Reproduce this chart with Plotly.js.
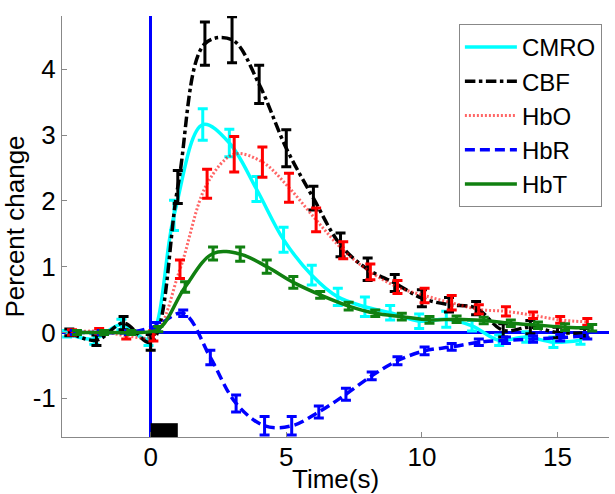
<!DOCTYPE html>
<html>
<head>
<meta charset="utf-8">
<script src="https://cdn.plot.ly/plotly-3.0.1.min.js"></script>
<style>html,body{margin:0;padding:0;background:#fff}#chart{width:615px;height:494px}</style>
</head>
<body>
<div id="chart"></div>
<script>
// ---- data ----
var tCBF = [-3,-2,-1,0,1,2,3,4,5,6,7,8,9,10,11,12,13,14,15,16];
var cbf = [0.0,-0.12,0.14,-0.15,2.21,4.39,4.45,3.77,2.8,2.04,1.33,0.96,0.75,0.52,0.42,0.37,0.03,0.08,0.0,-0.01];
var cbfErr = [0.05,0.08,0.1,0.12,0.25,0.33,0.35,0.29,0.28,0.18,0.18,0.17,0.13,0.13,0.11,0.1,0.1,0.1,0.08,0.07];

var tCMRO = [-3.08,-2.08,-1.08,-0.08,0.86,1.92,2.9,3.9,4.9,5.94,6.9,7.9,8.83,9.9,10.9,11.85,12.85,13.85,14.85,15.85];
var cmro = [-0.02,-0.1,0.12,-0.1,1.78,3.16,2.88,2.18,1.41,0.87,0.54,0.39,0.30,0.17,0.20,0.10,-0.12,-0.07,-0.15,-0.12];
var cmroErr = [0.05,0.08,0.08,0.1,0.23,0.24,0.21,0.19,0.19,0.15,0.13,0.15,0.11,0.11,0.12,0.08,0.08,0.08,0.08,0.06];

var tHbO = [-2.9,-1.9,-0.9,0.1,1.08,2.08,3.08,4.12,5.1,6.1,7.1,8.1,9.1,10.1,11.1,12.1,13.1,14.1,15.1,16.1];
var hbo = [0.0,0.02,-0.05,-0.05,0.96,2.26,2.71,2.59,2.2,1.71,1.25,0.92,0.69,0.56,0.45,0.35,0.32,0.26,0.19,0.16];
var hboErr = [0.04,0.04,0.05,0.08,0.14,0.22,0.27,0.23,0.22,0.18,0.13,0.12,0.1,0.11,0.11,0.07,0.07,0.05,0.05,0.05];

var tHbR = [-2.8,-1.8,-0.8,0.2,1.2,2.2,3.15,4.2,5.2,6.2,7.2,8.15,9.1,10.1,11.1,12.1,13.1,14.1,15.1,16.1];
var hbr = [0.0,0.0,0.0,0.1,0.29,-0.38,-1.08,-1.42,-1.42,-1.21,-0.94,-0.66,-0.43,-0.28,-0.22,-0.15,-0.12,-0.1,-0.08,-0.05];
var hbrErr = [0.03,0.03,0.03,0.05,0.05,0.11,0.13,0.14,0.14,0.09,0.09,0.06,0.06,0.06,0.05,0.05,0.05,0.05,0.05,0.05];

var tHbT = [-2.72,-1.72,-0.72,0.28,1.27,2.3,3.3,4.28,5.26,6.25,7.3,8.28,9.26,10.28,11.28,12.28,13.28,14.28,15.28,16.28];
var hbt = [0.0,0.0,0.0,0.05,0.69,1.2,1.19,1.0,0.76,0.57,0.4,0.29,0.24,0.19,0.2,0.18,0.14,0.11,0.08,0.07];
var hbtErr = [0.03,0.03,0.03,0.04,0.08,0.1,0.11,0.1,0.09,0.05,0.06,0.05,0.05,0.05,0.05,0.05,0.05,0.05,0.05,0.05];

var seriesNames = ['CMRO','CBF','HbO','HbR','HbT'];
var stim = [0, 1];
var stimTop = -1.38;
var xTicks = [0, 5, 10, 15];
var yTicks = [-1, 0, 1, 2, 3, 4];
var xRange = [-3.27, 16.9];
var yRange = [-1.59, 4.81];
var xTitle = 'Time(s)';
var yTitle = 'Percent change';

// ---- build traces ----
function tr(name, x, y, err, color, errColor, dash, width) {
  return {
    type: 'scatter', mode: 'lines', name: name, x: x, y: y,
    line: {color: color, width: width, dash: dash, shape: 'spline', smoothing: 1},
    error_y: {type: 'data', array: err, visible: true, color: errColor, thickness: 3, width: 5},
    hoverinfo: 'x+y'
  };
}
var data = [
  tr(seriesNames[0], tCMRO, cmro, cmroErr, 'rgb(0,255,255)', 'rgb(0,255,255)', 'solid', 3.5),
  tr(seriesNames[1], tCBF, cbf, cbfErr, 'rgb(0,0,0)', 'rgb(0,0,0)', 'dashdot', 3.5),
  tr(seriesNames[2], tHbO, hbo, hboErr, 'rgba(255,0,0,0.6)', 'rgb(255,0,0)', '2px,2px', 3),
  tr(seriesNames[3], tHbR, hbr, hbrErr, 'rgb(0,0,255)', 'rgb(0,0,255)', '10px,5px', 3.5),
  tr(seriesNames[4], tHbT, hbt, hbtErr, 'rgb(16,128,16)', 'rgb(16,128,16)', 'solid', 3.5)
];

var fam = '"Liberation Sans", Arial, Helvetica, sans-serif';
var font = {family: fam, size: 26, color: '#000'};
var layout = {
  width: 615, height: 494,
  margin: {l: 62, r: 6, t: 16, b: 57},
  paper_bgcolor: '#fff', plot_bgcolor: '#fff',
  font: font,
  showlegend: true,
  legend: {
    x: 0.987, y: 0.981, xanchor: 'right', yanchor: 'top',
    bgcolor: '#fff', bordercolor: '#888', borderwidth: 1,
    font: {family: fam, size: 24, color: '#000'},
    itemwidth: 52, tracegroupgap: 0
  },
  xaxis: {
    range: xRange, tickvals: xTicks, ticktext: xTicks.map(String),
    ticks: 'inside', ticklen: 5, tickcolor: '#888', showline: true, linecolor: '#888', linewidth: 1,
    showgrid: false, zeroline: true, zerolinecolor: '#0000ff', zerolinewidth: 3,
    ticklabelstandoff: -3, tickfont: font
  },
  yaxis: {
    range: yRange, tickvals: yTicks, ticktext: yTicks.map(String),
    ticks: 'inside', ticklen: 5, tickcolor: '#888', showline: true, linecolor: '#888', linewidth: 1,
    showgrid: false, zeroline: true, zerolinecolor: '#0000ff', zerolinewidth: 3,
    title: {text: yTitle, font: font, standoff: 6}, tickfont: font
  },
  annotations: [{
    text: xTitle, xref: 'paper', yref: 'paper', x: 0.5, y: 0, xanchor: 'center', yanchor: 'top',
    yshift: -25, showarrow: false, font: font
  }],
  shapes: [{
    type: 'rect', xref: 'x', yref: 'y', x0: stim[0], x1: stim[1], y0: yRange[0], y1: stimTop,
    fillcolor: '#000', line: {width: 0}, layer: 'above'
  }]
};
Plotly.newPlot('chart', data, layout, {displayModeBar: false, staticPlot: true});
</script>
</body>
</html>
